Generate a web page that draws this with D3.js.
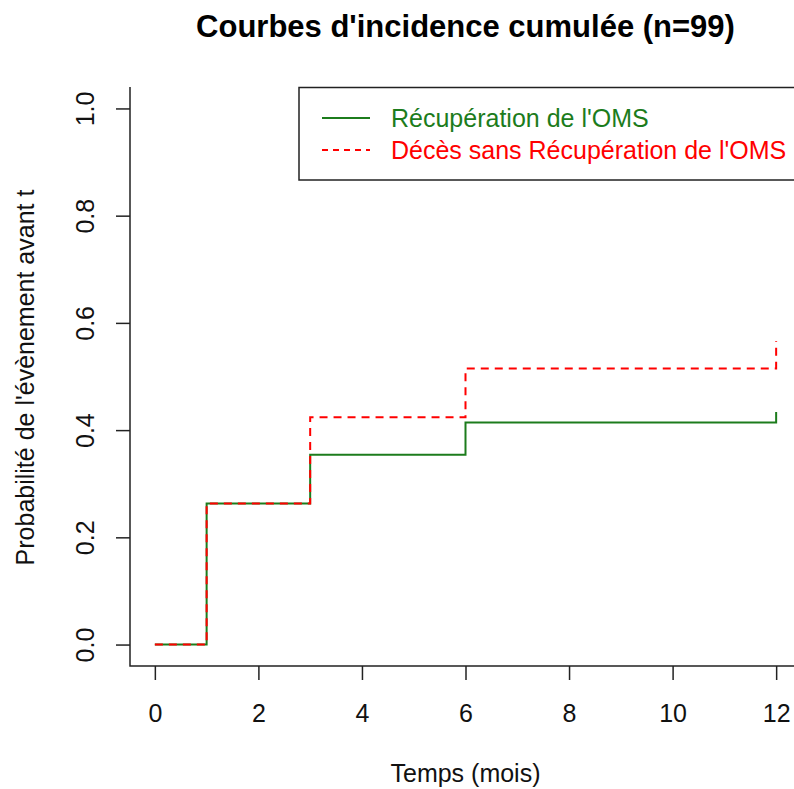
<!DOCTYPE html>
<html>
<head>
<meta charset="utf-8">
<script src="https://cdn.jsdelivr.net/npm/d3@7"></script>
<style>
  html, body { margin: 0; padding: 0; background: #fff; }
  svg { display: block; font-family: "Liberation Sans", Arial, sans-serif; }
</style>
</head>
<body>
<svg id="chart" width="794" height="789"></svg>
<script>
// ---- Data ----
const times = [0, 1, 3, 6, 12];
const recuperation = [0, 0.263, 0.354, 0.414, 0.434];
const decesSansRecup = [0, 0.263, 0.424, 0.515, 0.566];
const xTicks = [0, 2, 4, 6, 8, 10, 12];
const yTicks = [0.0, 0.2, 0.4, 0.6, 0.8, 1.0];
const seriesNames = ["Récupération de l'OMS", "Décès sans Récupération de l'OMS"];
const seriesColors = ["#1c7c1c", "#ff0000"];
const titleText = "Courbes d'incidence cumulée (n=99)";
const xLabel = "Temps (mois)";
const yLabel = "Probabilité de l'évènement avant t";

// ---- Layout ----
const svg = d3.select("#chart");
const plot = { left: 130, right: 801, top: 87, bottom: 666 };

const x = d3.scaleLinear().domain([-0.48, 12.48]).range([plot.left, plot.right]);
const y = d3.scaleLinear().domain([-0.04, 1.04]).range([plot.bottom, plot.top]);

const axisColor = "#222";
const textColor = "#111";

// Title
svg.append("text")
  .attr("x", (plot.left + plot.right) / 2)
  .attr("y", 37)
  .attr("text-anchor", "middle")
  .style("font-weight", "bold")
  .style("font-size", "31px")
  .attr("fill", "#000")
  .text(titleText);

// Box (bty = "l")
svg.append("path")
  .attr("d", `M${plot.left},${plot.top}V${plot.bottom}H${plot.right}`)
  .attr("fill", "none")
  .attr("stroke", axisColor)
  .attr("stroke-width", 1.5);

// X axis
const gx = svg.append("g")
  .attr("transform", `translate(0,${plot.bottom})`)
  .call(d3.axisBottom(x).tickValues(xTicks).tickSize(14).tickFormat(d3.format("d")));
gx.select(".domain").remove();
gx.selectAll(".tick line").attr("stroke", axisColor).attr("stroke-width", 1.5);
gx.selectAll(".tick text")
  .attr("y", 56).attr("dy", 0)
  .attr("fill", textColor)
  .style("font-size", "25px");

// Y axis
const gy = svg.append("g")
  .attr("transform", `translate(${plot.left},0)`)
  .call(d3.axisLeft(y).tickValues(yTicks).tickSize(14).tickFormat(d3.format(".1f")));
gy.select(".domain").remove();
gy.selectAll(".tick line").attr("stroke", axisColor).attr("stroke-width", 1.5);
gy.selectAll(".tick text")
  .attr("transform", "rotate(-90)")
  .attr("x", 0).attr("y", -36).attr("dy", 0)
  .style("text-anchor", "middle")
  .attr("fill", textColor)
  .style("font-size", "25px");

// Axis titles
svg.append("text")
  .attr("x", (plot.left + plot.right) / 2)
  .attr("y", 782)
  .attr("text-anchor", "middle")
  .attr("fill", textColor)
  .style("font-size", "25px")
  .text(xLabel);

svg.append("text")
  .attr("transform", `translate(34,${(plot.top + plot.bottom) / 2 + 1}) rotate(-90)`)
  .attr("text-anchor", "middle")
  .attr("fill", textColor)
  .style("font-size", "25px")
  .text(yLabel);

// Step curves
const line = d3.line()
  .x(d => x(d[0]))
  .y(d => y(d[1]))
  .curve(d3.curveStepAfter);

const series = [
  { values: recuperation, color: seriesColors[0], dash: null, legendDash: null },
  { values: decesSansRecup, color: seriesColors[1], dash: "8,6", legendDash: "6,5" }
];

series.forEach(s => {
  svg.append("path")
    .datum(times.map((t, i) => [t, s.values[i]]))
    .attr("d", line)
    .attr("fill", "none")
    .attr("stroke", s.color)
    .attr("stroke-width", 2)
    .attr("stroke-dasharray", s.dash);
});

// Legend
const leg = { x: 299, y: 87.5, w: 502, h: 92.5 };
svg.append("rect")
  .attr("x", leg.x).attr("y", leg.y)
  .attr("width", leg.w).attr("height", leg.h)
  .attr("fill", "#fff")
  .attr("stroke", axisColor)
  .attr("stroke-width", 1.5);

const legendRows = [118, 150];
series.forEach((s, i) => {
  svg.append("line")
    .attr("x1", 322).attr("x2", 370)
    .attr("y1", legendRows[i]).attr("y2", legendRows[i])
    .attr("stroke", s.color)
    .attr("stroke-width", 2)
    .attr("stroke-dasharray", s.legendDash);
  svg.append("text")
    .attr("x", 391)
    .attr("y", legendRows[i] + 9)
    .attr("fill", s.color)
    .style("font-size", "25px")
    .text(seriesNames[i]);
});
</script>
</body>
</html>
